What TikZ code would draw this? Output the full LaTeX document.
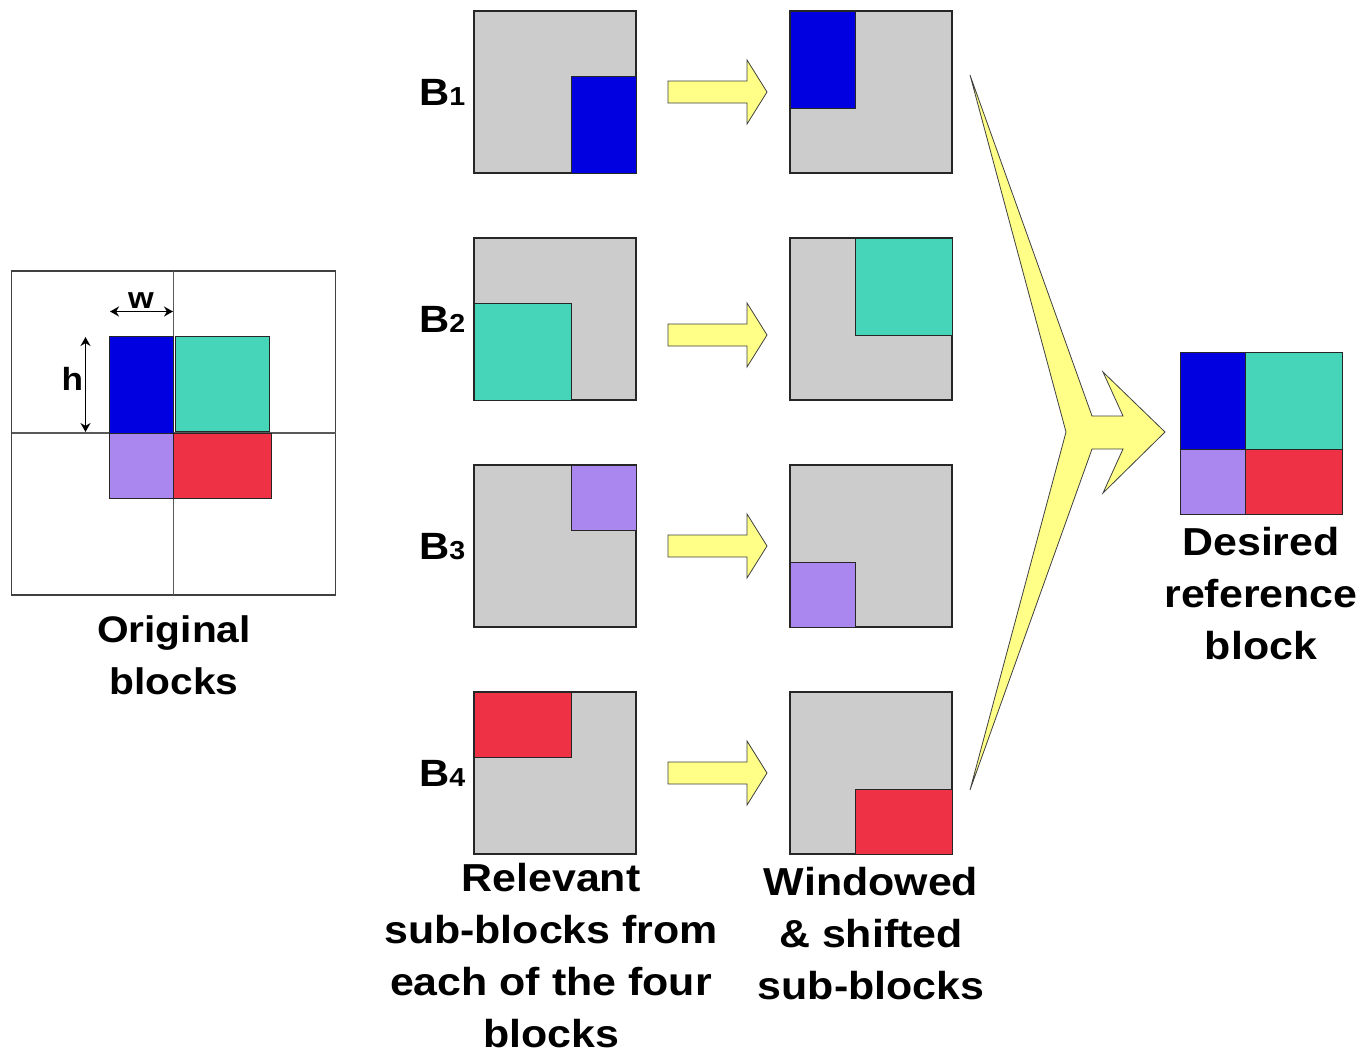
\documentclass[tikz,border=0pt]{standalone}
\usepackage{fontspec}
\newfontfamily\lbl{Liberation Sans}[FakeStretch=1.1]
\usetikzlibrary{arrows.meta,calc}
\definecolor{bgray}{HTML}{CCCCCC}
\definecolor{cblue}{HTML}{0000E1}
\definecolor{cteal}{HTML}{46D5B8}
\definecolor{cpurple}{HTML}{A987EF}
\definecolor{cred}{HTML}{EF3146}
\definecolor{cyellow}{HTML}{FFFF88}
\begin{document}
\begin{tikzpicture}[x=1pt,y=-1pt,
  blk/.style={draw=black!85,line width=1.2pt,fill=bgray,minimum width=162pt,minimum height=162pt,inner sep=0pt,outer sep=0pt},
  frame/.style={draw=black!85,line width=1.2pt,minimum width=#1,minimum height=#1,inner sep=0pt,outer sep=0pt},
  sub/.style={draw=black!85,line width=1pt},
  gridline/.style={draw=black!65,line width=1.2pt},
  yarrow/.style={draw=black!75,line width=0.8pt,fill=cyellow,line join=miter},
  dimarrow/.style={line width=1.7pt,{Stealth[length=9pt,width=10pt]}-{Stealth[length=9pt,width=10pt]}},
  lab/.style={font=\lbl\bfseries\fontsize{39}{52}\selectfont,align=center,inner sep=0pt,anchor=base},
  blab/.style={font=\lbl\bfseries\fontsize{38}{40}\selectfont,inner sep=0pt,anchor=base west}
]
\useasboundingbox (0,0) rectangle (1362,1053);

% ---------- original 2x2 block grid ----------
\node[frame=324pt,draw=black!75] (orig) at (173.7,433) {};
\draw[gridline] (orig.north) -- (orig.south);
\draw[gridline] (orig.west) -- (orig.east);
\draw[sub,fill=cblue]   (109,336) rectangle (173.7,433);
\draw[sub,fill=cteal]   (175,336) rectangle (269,431);
\draw[sub,fill=cpurple] (109,433) rectangle (173.7,498);
\draw[sub,fill=cred]    (173.7,433) rectangle (271.7,498);
\coordinate (wl) at (110,311.5);
\coordinate (wr) at (173,311.5);
\draw[dimarrow] (wl) -- (wr);
\coordinate (ht) at (85.5,337);
\coordinate (hb) at (85.5,432);
\draw[dimarrow] (ht) -- (hb);
\node[inner sep=0pt,anchor=base,font=\lbl\bfseries\fontsize{30}{30}\selectfont] (wlab) at (141,308) {w};
\node[inner sep=0pt,anchor=base,font=\lbl\bfseries\fontsize{32}{32}\selectfont] (hlab) at (72.5,390) {h};
% multi-line captions are anchored at the baseline of their last line
\node[lab,font=\lbl\bfseries\fontsize{37}{52}\selectfont] (origlab) at (174,694) {Original\\blocks};

% ---------- relevant sub-blocks (left column) ----------
\node[blk] (L1) at (555,92) {};
\node[blk] (L2) at (555,319) {};
\node[blk] (L3) at (555,546) {};
\node[blk] (L4) at (555,773) {};
\draw[sub,fill=cblue]   (571,76)  rectangle (636,173);
\draw[sub,fill=cteal]   (474,303) rectangle (571,400);
\draw[sub,fill=cpurple] (571,465) rectangle (636,530);
\draw[sub,fill=cred]    (474,692) rectangle (571,757);

% ---------- windowed and shifted sub-blocks (right column) ----------
\node[blk] (R1) at (871,92) {};
\node[blk] (R2) at (871,319) {};
\node[blk] (R3) at (871,546) {};
\node[blk] (R4) at (871,773) {};
\draw[sub,fill=cblue]   (790,11)  rectangle (855,108);
\draw[sub,fill=cteal]   (855,238) rectangle (952,335);
\draw[sub,fill=cpurple] (790,562) rectangle (855,627);
\draw[sub,fill=cred]    (855,789) rectangle (952,854);

% ---------- row labels ----------
\node[blab] (B1) at (419,105.5) {B{\fontsize{26}{26}\selectfont 1}};
\node[blab] (B2) at (419,332.5) {B{\fontsize{26}{26}\selectfont 2}};
\node[blab] (B3) at (419,559.5) {B{\fontsize{26}{26}\selectfont 3}};
\node[blab] (B4) at (419,786.5) {B{\fontsize{26}{26}\selectfont 4}};

% ---------- block arrows between the columns ----------
\foreach \i/\yc in {1/92,2/335,3/546,4/773}{
  \coordinate (as\i) at ($(L\i.east |- 0,\yc)+(32,0)$);
  \draw[yarrow] ($(as\i)+(0,-11)$) -- ++(79,0) -- ++(0,-21) -- ++(20,32)
     -- ++(-20,32) -- ++(0,-21) -- ++(-79,0) -- cycle;
}

% ---------- desired reference block ----------
\node[minimum width=162pt,minimum height=162pt,inner sep=0pt,outer sep=0pt] (ref) at (1261,433) {};
\draw[sub,fill=cblue]   (1180,352) rectangle (1245,449);
\draw[sub,fill=cteal]   (1245,352) rectangle (1342,449);
\draw[sub,fill=cpurple] (1180,449) rectangle (1245,514);
\draw[sub,fill=cred]    (1245,449) rectangle (1342,514);

% ---------- merging arrow ----------
\coordinate (mtop) at (970,75);
\coordinate (mbot) at (970,790);
\coordinate (mtip) at (1165,432);
\draw[yarrow] (mtop) -- (1066,432) -- (mbot) -- (1092,449) -- (1123,449)
   -- (1103,493) -- (mtip) -- (1103,372) -- (1123,416) -- (1092,416) -- cycle;

% ---------- captions ----------
\node[lab] (rellab) at (551,1047) {Relevant\\sub-blocks from\\each of the four\\blocks};
\node[lab] (winlab) at (871,999) {Windowed\\\& shifted\\sub-blocks};
\node[lab] (reflab) at (1261,659) {Desired\\reference\\block};
\end{tikzpicture}
\end{document}
